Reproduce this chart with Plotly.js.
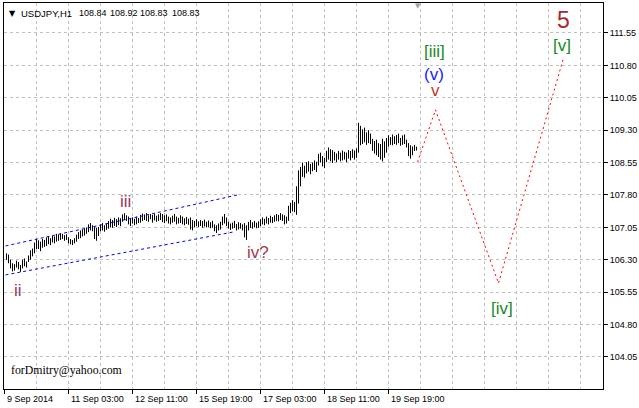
<!DOCTYPE html>
<html>
<head>
<meta charset="utf-8">
<script src="https://cdn.plot.ly/plotly-3.0.1.min.js"></script>
<style>html,body{margin:0;padding:0;background:#fff;}#chart{width:639px;height:408px;}</style>
</head>
<body>
<div id="chart"></div>
<script>
// ---- data (bar index on the MetaTrader time axis, prices in JPY) ----
const highs = [
106.45,106.42,106.30,106.22,106.20,106.28,106.25,106.18,106.30,106.33,
106.26,106.40,106.52,106.56,106.70,106.78,106.75,106.72,106.78,106.76,
106.82,106.85,106.80,106.86,106.84,106.90,106.88,106.92,106.90,106.87,
106.89,106.82,106.78,106.76,106.80,106.88,106.94,106.98,107.00,107.03,
107.05,107.12,107.15,107.10,107.08,107.04,107.06,107.12,107.15,107.10,
107.14,107.20,107.25,107.22,107.27,107.24,107.28,107.26,107.35,107.38,
107.33,107.30,107.26,107.28,107.25,107.30,107.27,107.34,107.37,107.35,
107.38,107.33,107.36,107.34,107.37,107.32,107.35,107.38,107.36,107.33,
107.35,107.30,107.28,107.32,107.36,107.30,107.27,107.33,107.30,107.26,
107.29,107.25,107.28,107.22,107.20,107.24,107.19,107.22,107.20,107.23,
107.18,107.21,107.17,107.20,107.12,107.10,107.14,107.18,107.30,107.36,
107.28,107.18,107.14,107.16,107.20,107.13,107.17,107.15,107.12,107.15,
107.10,107.18,107.22,107.17,107.20,107.16,107.19,107.24,107.28,107.25,
107.30,107.27,107.32,107.29,107.33,107.36,107.34,107.38,107.35,107.33,
107.30,107.55,107.62,107.68,107.64,108.00,108.37,108.45,108.55,108.48,
108.56,108.58,108.52,108.55,108.60,108.57,108.75,108.78,108.70,108.66,
108.82,108.90,108.86,108.84,108.80,108.76,108.82,108.78,108.83,108.80,
108.78,108.84,108.82,108.86,108.83,108.88,109.47,109.40,109.32,109.36,
109.25,109.30,109.22,109.10,109.05,109.08,109.00,108.98,109.10,109.04,
109.12,109.18,109.14,109.20,109.16,109.19,109.22,109.12,109.18,109.20,
109.08,109.00,108.95,108.92,108.96,108.92
];
const lows = [
106.30,106.22,106.10,106.03,106.05,106.12,106.08,106.02,106.10,106.15,
106.12,106.25,106.30,106.38,106.45,106.55,106.55,106.50,106.58,106.60,
106.62,106.66,106.64,106.70,106.68,106.72,106.74,106.76,106.78,106.74,
106.76,106.68,106.66,106.64,106.68,106.72,106.78,106.80,106.84,106.86,
106.90,106.94,106.98,106.96,106.78,106.74,106.85,106.96,106.98,106.95,
106.99,107.02,107.05,107.04,107.08,107.06,107.10,107.08,107.18,107.22,
107.20,107.12,107.08,107.14,107.10,107.12,107.15,107.16,107.20,107.22,
107.20,107.18,107.24,107.16,107.21,107.18,107.20,107.22,107.17,107.15,
107.19,107.14,107.12,107.16,107.18,107.12,107.14,107.15,107.12,107.10,
107.13,107.11,107.00,106.98,107.05,107.08,107.06,107.08,107.04,107.07,
107.05,107.06,107.03,107.04,106.96,106.92,106.98,107.00,107.10,107.14,
107.08,107.02,106.99,107.02,107.04,106.98,107.00,107.02,106.98,106.82,
106.76,106.98,107.04,107.02,107.05,107.03,107.04,107.08,107.12,107.10,
107.14,107.12,107.16,107.15,107.18,107.20,107.19,107.22,107.20,107.12,
107.14,107.20,107.38,107.42,107.40,107.34,107.60,108.00,108.22,108.20,
108.30,108.34,108.28,108.35,108.38,108.33,108.48,108.55,108.46,108.42,
108.56,108.62,108.58,108.54,108.60,108.56,108.62,108.58,108.60,108.62,
108.56,108.64,108.60,108.66,108.62,108.66,108.78,108.95,108.98,109.02,
108.96,109.00,108.98,108.82,108.76,108.72,108.68,108.62,108.58,108.66,
108.78,108.92,108.96,108.95,108.98,108.96,109.00,108.94,108.96,108.98,
108.90,108.70,108.64,108.72,108.82,108.83
];
// time-axis labels (bar index -> text)
const timeTickIdx = [0, 32, 64, 96, 128, 160, 192];
const timeTickText = ['9 Sep 2014','11 Sep 03:00','12 Sep 11:00','15 Sep 19:00','17 Sep 03:00','18 Sep 11:00','19 Sep 19:00'];
// header: symbol and last bar O/H/L/C
const symbolText = 'USDJPY,H1';
const lastOHLC = ['108.84', '108.92', '108.83', '108.83'];
// channel lines
const chanUpX = [0.5, 116.5], chanUpY = [106.62, 107.80];
const chanLoX = [0.5, 114], chanLoY = [105.95, 106.94];
// forecast path
const fcX = [206.5, 215.5, 247, 279.5];
const fcY = [108.56, 109.77, 105.76, 110.97];
// wave labels
const waveText = ['ii','iii','iv?','[iii]','(v)','v','5','[v]','[iv]'];
const waveX = [6.5, 60.5, 126.5, 215, 214.5, 215.5, 279.5, 278.5, 248.5];
const waveY = [105.58, 107.66, 106.46, 111.11, 110.60, 110.23, 111.85, 111.27, 105.18];
const waveColor = ['#993366','#993366','#a3384e','#178a1e','#1a1aff','#c0392b','#a52a2a','#178a1e','#178a1e'];
const waveSize = [17, 17, 17, 17, 17, 17, 23, 17, 17];

const barIdx = highs.map((_, i) => i + 1);

const traces = [
  {type:'ohlc', x: barIdx, open: lows, high: highs, low: lows, close: highs,
   tickwidth: 0, increasing:{line:{color:'#000', width:1}}, decreasing:{line:{color:'#000', width:1}},
   hoverinfo:'skip', showlegend:false},
  {type:'scatter', mode:'lines', x: chanUpX, y: chanUpY, line:{color:'#0000ff', width:1, dash:'3px,3px'}, hoverinfo:'skip', showlegend:false},
  {type:'scatter', mode:'lines', x: chanLoX, y: chanLoY, line:{color:'#0000ff', width:1, dash:'3px,3px'}, hoverinfo:'skip', showlegend:false},
  {type:'scatter', mode:'lines', x: fcX, y: fcY, line:{color:'#ff0000', width:1, dash:'2px,3px'}, hoverinfo:'skip', showlegend:false}
];

const sans = 'Liberation Sans, Arial, sans-serif';
const annotations = [];
waveText.forEach((t, i) => {
  annotations.push({xref:'x', yref:'y', x: waveX[i], y: waveY[i], text: t, showarrow:false,
    xanchor:'center', yanchor:'middle', borderpad:0,
    font:{family: sans, size: waveSize[i], color: waveColor[i]}});
});
timeTickIdx.forEach((v, i) => {
  annotations.push({xref:'x', yref:'paper', x: v, y: 0, yshift: -3, text: timeTickText[i], showarrow:false,
    xanchor:'left', yanchor:'top', font:{family: sans, size:9, color:'#000'}});
});
// header pieces
annotations.push({xref:'paper', yref:'paper', x: 0, y: 1, xshift: 3, yshift: -4, showarrow:false,
  xanchor:'left', yanchor:'top', text:'\u25BC', font:{family:'DejaVu Sans', size:8, color:'#000'}});
annotations.push({xref:'paper', yref:'paper', x: 0, y: 1, xshift: 15, yshift: -3, showarrow:false,
  xanchor:'left', yanchor:'top', text: symbolText, font:{family: sans, size:9.5, color:'#000'}});
const ohlcShift = [73, 104, 134, 166];
lastOHLC.forEach((t, i) => {
  annotations.push({xref:'paper', yref:'paper', x: 0, y: 1, xshift: ohlcShift[i], yshift: -3, showarrow:false,
    xanchor:'left', yanchor:'top', text: t, font:{family: sans, size:9, color:'#000'}});
});
annotations.push({xref:'paper', yref:'paper', x: 0, y: 0, xshift: 5, yshift: 10, showarrow:false,
  xanchor:'left', yanchor:'bottom', text:'forDmitry@yahoo.com',
  font:{family:'Liberation Serif, Times New Roman, serif', size:11.8, color:'#000'}});
annotations.push({xref:'x', yref:'paper', x: 206.5, y: 1, yshift: 3, showarrow:false,
  xanchor:'center', yanchor:'top', text:'\u25BC', font:{family:'DejaVu Sans', size:7, color:'#a0a0a0'}});

const layout = {
  width: 639, height: 408,
  margin: {l:4, r:36, t:3, b:19, pad:0},
  paper_bgcolor:'#fff', plot_bgcolor:'#fff',
  showlegend:false,
  xaxis: {
    range:[-0.25, 299.25], rangeslider:{visible:false},
    tickmode:'array', tickvals: timeTickIdx, ticktext: timeTickIdx.map(() => ''),
    ticks:'outside', ticklen:4, tickcolor:'#000', tickwidth:1,
    showgrid:false,
    minor:{tick0:0, dtick:16, showgrid:true, gridcolor:'#c0c0c0', griddash:'3px,3px', gridwidth:1, ticks:''},
    showline:true, linecolor:'#000', linewidth:1, mirror:true, zeroline:false, fixedrange:true
  },
  yaxis: {
    side:'right', range:[103.309, 112.244],
    tick0:104.05, dtick:0.75, tickformat:'.2f',
    ticks:'outside', ticklen:4, tickcolor:'#000',
    showgrid:true, gridcolor:'#c0c0c0', griddash:'3px,3px', gridwidth:1,
    showline:true, linecolor:'#000', linewidth:1, mirror:true, zeroline:false,
    tickfont:{family: sans, size:9, color:'#000'}, fixedrange:true
  },
  annotations: annotations
};

Plotly.newPlot('chart', traces, layout, {staticPlot:true, displayModeBar:false});
</script>
</body>
</html>
